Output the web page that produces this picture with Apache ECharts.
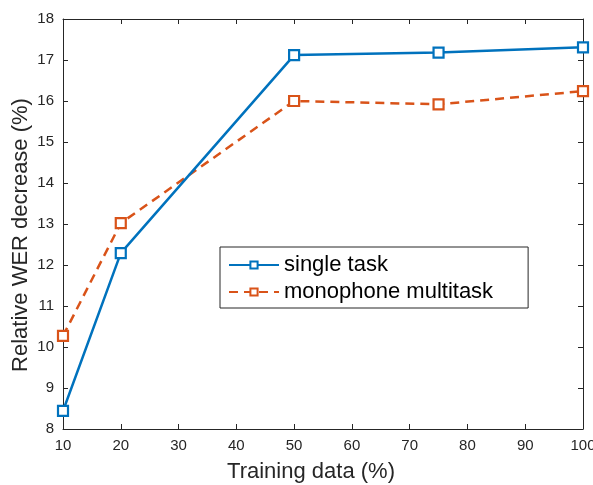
<!DOCTYPE html>
<html><head><meta charset="utf-8">
<script src="https://cdn.jsdelivr.net/npm/echarts@6/dist/echarts.min.js"></script>
<style>html,body{margin:0;padding:0;background:#fff}#c{width:593px;height:485px}</style>
</head><body><div id="c"></div>
<script>
const trainingData = [10, 20, 50, 75, 100];
const singleTask = [8.44, 12.29, 17.12, 17.18, 17.31];
const monoMultitask = [10.27, 13.02, 16.0, 15.92, 16.24];
const seriesNames = ['single task', 'monophone multitask'];

const font = 'Liberation Sans, Arial, Helvetica, sans-serif';
const axisColor = '#262626';
function pairs(xs, ys){ return xs.map((x,i)=>[x, ys[i]]); }

const chart = echarts.init(document.getElementById('c'), null, {renderer:'canvas'});
const baseX = {type:'value', min:10, max:100, interval:10,
  axisLine:{show:true, onZero:false, lineStyle:{color:axisColor, width:1}},
  axisTick:{show:true, inside:true, length:5, lineStyle:{color:axisColor}},
  splitLine:{show:false}};
const baseY = {type:'value', min:8, max:18, interval:1,
  axisLine:{show:true, onZero:false, lineStyle:{color:axisColor, width:1}},
  axisTick:{show:true, inside:true, length:5, lineStyle:{color:axisColor}},
  splitLine:{show:false}};
chart.setOption({
  animation:false,
  backgroundColor:'#fff',
  grid:{left:63, right:10, top:19, bottom:56, containLabel:false, outerBoundsMode:'none'},
  xAxis:[
    Object.assign({}, baseX, {position:'bottom', name:'Training data (%)', nameLocation:'middle', nameGap:32,
      nameMoveOverlap:false,
      nameTextStyle:{fontFamily:font, fontSize:22, color:axisColor, padding:[0,24,0,0]},
      axisLabel:{fontFamily:font, fontSize:15, color:axisColor, margin:9}}),
    Object.assign({}, baseX, {position:'top', axisLabel:{show:false}})
  ],
  yAxis:[
    Object.assign({}, baseY, {position:'left', name:'Relative WER decrease (%)', nameLocation:'middle', nameGap:31,
      nameMoveOverlap:false,
      nameTextStyle:{fontFamily:font, fontSize:22, color:axisColor, padding:[0,22,0,0]},
      axisLabel:{fontFamily:font, fontSize:15, color:axisColor, margin:9}}),
    Object.assign({}, baseY, {position:'right', axisLabel:{show:false}})
  ],
  legend:{
    orient:'vertical', left:220, top:247,
    padding:[7,35,5,8], itemGap:5,
    backgroundColor:'#fff', borderColor:'#262626', borderWidth:1, borderRadius:0,
    itemWidth:50, itemHeight:9,
    textStyle:{fontFamily:font, fontSize:22, color:'#000'},
    data:seriesNames
  },
  series:[
    {name:seriesNames[0], type:'line', data:pairs(trainingData, singleTask),
      color:'#0072BD', lineStyle:{width:2.5, color:'#0072BD'},
      symbol:'rect', symbolSize:10, itemStyle:{color:'#fff', borderColor:'#0072BD', borderWidth:2.2},
      z:3},
    {name:seriesNames[1], type:'line', data:pairs(trainingData, monoMultitask),
      color:'#D95319', lineStyle:{width:2.5, color:'#D95319', type:[9,6]},
      symbol:'rect', symbolSize:10, itemStyle:{color:'#fff', borderColor:'#D95319', borderWidth:2.2},
      z:2}
  ]
});
</script></body></html>
